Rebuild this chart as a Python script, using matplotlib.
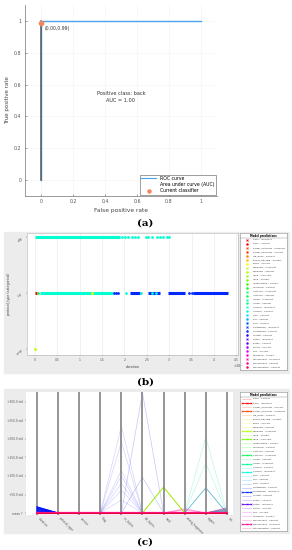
import numpy as np
import matplotlib
matplotlib.use("Agg")
import matplotlib.pyplot as plt
from matplotlib.patches import Rectangle, Patch
from matplotlib.lines import Line2D

##################################
# Data

# (a) ROC curve
roc_fpr = [0.0, 0.0, 1.0]
roc_tpr = [0.0, 1.0, 1.0]
current_fpr = 0.00
current_tpr = 0.99
auc_value = 1.00

# class names (order of the legends)
classes = ["back", "buffer_overflow", "ftp_write", "guess_passwd", "imap",
           "ipsweep", "land", "loadmodule", "multihop", "neptune", "nmap",
           "normal", "perl", "phf", "pod", "portsweep", "rootkit", "satan",
           "smurf", "spy", "teardrop", "warezclient", "warezmaster"]
incorrect_classes = ["back", "buffer_overflow", "ipsweep", "land", "neptune",
                     "nmap", "normal", "portsweep", "satan", "warezclient"]

# (b) duration (x 10^4 s) vs protocol_type
protocols = ["icmp", "tcp", "udp"]
duration_ticks = [0, 0.5, 1, 1.5, 2, 2.5, 3, 3.5, 4, 4.5]
duration_ticklabels = ["0", "0.5", "1", "1.5", "2", "2.5", "3", "3.5", "4", "4.5"]
# runs of overlapping markers: (class, outcome, protocol, start, end)
b_runs = [
    ("normal", "Correct", "udp", 0.0, 1.90),
    ("normal", "Correct", "tcp", 0.10, 1.75),
    ("back", "Incorrect", "tcp", 0.0, 0.04),
    ("portsweep", "Correct", "tcp", 2.12, 2.35),
    ("portsweep", "Correct", "tcp", 2.53, 2.80),
    ("portsweep", "Correct", "tcp", 2.98, 3.35),
    ("portsweep", "Correct", "tcp", 3.53, 4.32),
]
# single points: (class, outcome, protocol, duration)
b_points = [
    ("normal", "Correct", "udp", 1.95), ("normal", "Correct", "udp", 2.01),
    ("normal", "Correct", "udp", 2.08), ("normal", "Correct", "udp", 2.17),
    ("normal", "Correct", "udp", 2.24), ("normal", "Correct", "udp", 2.30),
    ("normal", "Correct", "udp", 2.48), ("normal", "Correct", "udp", 2.53),
    ("normal", "Correct", "udp", 2.62), ("normal", "Correct", "udp", 2.73),
    ("normal", "Correct", "udp", 2.80), ("normal", "Correct", "udp", 2.86),
    ("normal", "Correct", "udp", 2.95), ("normal", "Correct", "udp", 3.00),
    ("neptune", "Correct", "tcp", 0.07),
    ("imap", "Correct", "tcp", 1.28),
    ("portsweep", "Correct", "tcp", 1.76), ("portsweep", "Correct", "tcp", 1.80),
    ("portsweep", "Correct", "tcp", 1.85),
    ("normal", "Correct", "tcp", 2.03), ("normal", "Correct", "tcp", 2.38),
    ("normal", "Correct", "tcp", 2.62), ("normal", "Correct", "tcp", 2.70),
    ("portsweep", "Correct", "tcp", 3.45), ("portsweep", "Correct", "tcp", 3.50),
    ("ipsweep", "Correct", "icmp", 0.0),
]

# (c) parallel coordinates (standardized values, std units)
features = ["duration", "protocol_type", "service", "flag", "src_bytes",
            "dst_bytes", "land", "wrong_fragment", "urgent", "hot"]
std_ticks = [0, 50, 100, 150, 200, 250, 300]
std_ticklabels = ["mean ?", "+50.0 std", "+100.0 std", "+150.0 std",
                  "+200.0 std", "+250.0 std", "+300.0 std"]
duration_peaks = [17, 15, 13, 11, 9, 7, 5, 3, 1]          # portsweep - Incorrect
src_bytes_peaks = [235, 192, 115, 100, 80, 62, 35]          # portsweep - Correct
dst_bytes_peaks = [325, 97]                                # pod - Correct
land_peaks = [70]                                          # land - Incorrect
wrong_fragment_peaks = [12, 10, 8]                         # teardrop - Correct
urgent_peaks_light = [205, 135]                            # normal - Correct
urgent_peaks_dark = [68]                                   # nmap - Incorrect
hot_peaks = [14, 11, 8, 5]                                 # warezclient - Correct
hot_peaks_teal = [10, 6]                                   # normal - Correct

##################################
# Helpers

cls_color = {c: plt.cm.hsv(i / len(classes)) for i, c in enumerate(classes)}


def fbox(l, t, r, b):
    return [l / 292, 1 - b / 550, (r - l) / 292, (b - t) / 550]


def gray_panel(t, b):
    fig.patches.append(Rectangle((4 / 292, 1 - b / 550), 285 / 292, (b - t) / 550,
                                 transform=fig.transFigure, color="#ececec", zorder=-5))


def peak_line(feature, value):
    vals = [0.0] * len(features)
    vals[features.index(feature)] = value
    return vals


def draw_legend(ax, entries, kind):
    n = len(entries)
    ax.set_xlim(0, 1)
    ax.set_ylim(n + 0.7, -0.7)
    ax.set_xticks([])
    ax.set_yticks([])
    for s in ax.spines.values():
        s.set_color("#8a8a8a")
        s.set_linewidth(0.4)
    ax.text(0.5, 0, "Model predictions", fontsize=1.9, weight="bold",
            ha="center", va="center")
    ax.axhline(0.55, color="#8a8a8a", lw=0.3)
    for i, (c, o) in enumerate(entries, 1):
        col = cls_color[c]
        if kind == "marker":
            if o == "Incorrect":
                ax.plot(0.14, i, marker="x", color=col, ms=1.4, mew=0.6)
            else:
                ax.plot(0.14, i, marker=".", color=col, ms=1.6)
        else:
            if o == "Incorrect":
                ax.plot([0.04, 0.14, 0.24], [i, i, i], color=col, lw=0.6,
                        marker="x", ms=1.2, mew=0.4)
            else:
                ax.plot([0.04, 0.24], [i, i], color=col, lw=0.5, alpha=0.3)
        ax.text(0.27, i, f"{c} - {o}", fontsize=1.7, va="center", color="#333333")


fig = plt.figure(figsize=(2.92, 5.5), dpi=100)

##################################
# (a) ROC

ax_a = fig.add_axes(fbox(25, 5, 217, 196))
ax_a.plot(roc_fpr, roc_tpr, color="#4aa3ea", lw=1.0, label="ROC curve", zorder=3)
ax_a.plot(roc_fpr[:2], roc_tpr[:2], color="#5a5a5a", lw=1.1, zorder=4)
ax_a.scatter([current_fpr], [current_tpr], s=9, color="#f5845a", zorder=5,
             label="Current classifier")
ax_a.text(current_fpr + 0.025, current_tpr - 0.02,
          f"({current_fpr:.2f},{current_tpr:.2f})", fontsize=3.3,
          ha="left", va="top", color="#333333")
ax_a.text(0.5, 0.52, f"Positive class: back\nAUC = {auc_value:.2f}",
          fontsize=3.6, ha="center", va="center", color="#333333",
          linespacing=1.5)
ax_a.set_xlim(-0.1, 1.1)
ax_a.set_ylim(-0.1, 1.1)
ax_a.set_xticks([0, 0.2, 0.4, 0.6, 0.8, 1])
ax_a.set_xticklabels(["0", "0.2", "0.4", "0.6", "0.8", "1"])
ax_a.set_yticks([0, 0.2, 0.4, 0.6, 0.8, 1])
ax_a.set_yticklabels(["0", "0.2", "0.4", "0.6", "0.8", "1"])
ax_a.tick_params(labelsize=3.4, colors="#555555", length=1.5, width=0.4,
                 direction="in", pad=2.5)
ax_a.grid(color="#f4f4f4", lw=0.4)
for s in ["top", "right"]:
    ax_a.spines[s].set_visible(False)
for s in ["left", "bottom"]:
    ax_a.spines[s].set_color("#8a8a8a")
    ax_a.spines[s].set_linewidth(0.6)
ax_a.set_xlabel("False positive rate", fontsize=4.2, color="#444444", labelpad=2.5)
ax_a.set_ylabel("True positive rate", fontsize=4.0, color="#444444", labelpad=3)
handles = [Line2D([], [], color="#4aa3ea", lw=0.8),
           Patch(facecolor="white", edgecolor="none"),
           Line2D([], [], color="#f5845a", marker="o", ls="", ms=2.2)]
leg = ax_a.legend(handles, ["ROC curve", "Area under curve (AUC)", "Current classifier"],
                  loc="lower right", fontsize=3.3, labelspacing=0.25,
                  handlelength=3.2, borderpad=0.3, borderaxespad=0.3,
                  fancybox=False, framealpha=1)
leg.get_frame().set_linewidth(0.4)
leg.get_frame().set_edgecolor("#555555")
fig.text(145 / 292, 1 - 223 / 550, "(a)", fontsize=7.5, weight="bold",
         family="DejaVu Serif", ha="center", va="center")

##################################
# (b) scatter duration vs protocol

gray_panel(232, 373)
ax_b = fig.add_axes(fbox(27, 233, 238, 355))
for c, o, p, x0, x1 in b_runs:
    ax_b.hlines(protocols.index(p), x0, x1, color=cls_color[c], lw=2.2, zorder=3)
for c, o, p, x in b_points:
    ax_b.plot(x, protocols.index(p), marker="s" if o == "Incorrect" else "o",
              color=cls_color[c], ms=2.0, mew=0, zorder=4)
ax_b.set_xlim(-0.18, 4.54)
ax_b.set_ylim(-0.1, 2.08)
ax_b.set_xticks(duration_ticks)
ax_b.set_xticklabels(duration_ticklabels)
ax_b.set_yticks(range(len(protocols)))
ax_b.set_yticklabels(protocols, rotation=45)
ax_b.tick_params(labelsize=2.2, colors="#555555", length=1, width=0.3, pad=1.5)
ax_b.grid(axis="x", color="#e6e6e6", lw=0.4)
for s in ax_b.spines.values():
    s.set_color("#b0b0b0")
    s.set_linewidth(0.4)
ax_b.set_xlabel("duration", fontsize=2.4, color="#444444", labelpad=1.5)
ax_b.set_ylabel("protocol_type (categorical)", fontsize=2.3, color="#444444", labelpad=3)
fig.text(233 / 292, 1 - 366 / 550, r"$\times10^4$", fontsize=2.4, color="#555555",
         ha="left", va="center")

entries_b = []
for c in classes:
    if c in incorrect_classes:
        entries_b.append((c, "Incorrect"))
    entries_b.append((c, "Correct"))
ax_lb = fig.add_axes(fbox(240, 233, 287, 370))
draw_legend(ax_lb, entries_b, "marker")
fig.text(145 / 292, 1 - 382 / 550, "(b)", fontsize=7.5, weight="bold",
         family="DejaVu Serif", ha="center", va="center")

##################################
# (c) parallel coordinates

gray_panel(389, 533)
ax_c = fig.add_axes(fbox(26, 392, 233, 515))
xs = np.arange(1, len(features) + 1)

lav = (0.45, 0.45, 0.95)
for v in src_bytes_peaks:
    ax_c.plot(xs, peak_line("src_bytes", v), color=lav, lw=0.5, alpha=0.3, zorder=2)
for v in dst_bytes_peaks:
    ax_c.plot(xs, peak_line("dst_bytes", v), color=lav, lw=0.5, alpha=0.4, zorder=2)
for v in urgent_peaks_light:
    ax_c.plot(xs, peak_line("urgent", v), color="#40e8c8", lw=0.5, alpha=0.35, zorder=2)
for v in urgent_peaks_dark:
    ax_c.plot(xs, peak_line("urgent", v), color="#3aa8c0", lw=0.6, alpha=0.8, zorder=2)
for v in wrong_fragment_peaks:
    ax_c.plot(xs, peak_line("wrong_fragment", v), color="#ff50c0", lw=0.5, alpha=0.5, zorder=2)
for v in land_peaks:
    ax_c.plot(xs, peak_line("land", v), color="#9ee800", lw=0.7, zorder=2)
for v in hot_peaks:
    ax_c.plot(xs, peak_line("hot", v), color="#c02090", lw=0.6, alpha=0.6, zorder=2)
for v in hot_peaks_teal:
    ax_c.plot(xs, peak_line("hot", v), color="#20b8c0", lw=0.6, alpha=0.7, zorder=2)

for x in xs:
    ax_c.axvline(x, color="#8c8c8c", lw=1.3, zorder=3)

for v in duration_peaks:
    ax_c.plot(xs, peak_line("duration", v), color="#0010ff", lw=0.7, zorder=4)
ax_c.plot(xs, peak_line("duration", 0), color="#ff1080", lw=1.6, zorder=5)
ax_c.plot(xs, peak_line("duration", 0), color="#e00020", lw=0.5, zorder=5)

ax_c.set_xlim(0.48, 10.29)
ax_c.set_ylim(-5.4, 327)
ax_c.set_xticks(xs)
ax_c.set_xticklabels(features, rotation=-45, ha="left", va="top")
ax_c.set_yticks(std_ticks)
ax_c.set_yticklabels(std_ticklabels)
ax_c.tick_params(labelsize=2.1, colors="#555555", length=1, width=0.3, pad=1.5)
ax_c.tick_params(axis="x", length=0, pad=1)
for s in ax_c.spines.values():
    s.set_visible(False)

entries_c = []
for c in classes:
    entries_c.append((c, "Correct"))
    if c in incorrect_classes:
        entries_c.append((c, "Incorrect"))
ax_lc = fig.add_axes(fbox(240, 392, 287, 531))
draw_legend(ax_lc, entries_c, "line")
fig.text(145 / 292, 1 - 542 / 550, "(c)", fontsize=7.5, weight="bold",
         family="DejaVu Serif", ha="center", va="center")

fig.savefig("out.png", dpi=100)
